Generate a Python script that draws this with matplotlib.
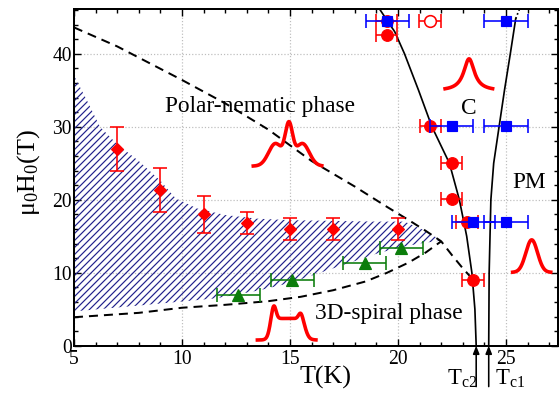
import numpy as np
import matplotlib
matplotlib.use('Agg')
import matplotlib.pyplot as plt
from matplotlib.patches import Polygon

DPI = 84
PX = 72.0 / DPI  # points per pixel

plt.rcParams['font.family'] = ['Liberation Serif', 'DejaVu Serif']
plt.rcParams['mathtext.default'] = 'regular'
plt.rcParams['hatch.linewidth'] = 1.2 * PX

# ---------------- data ----------------
dia_T = [7, 9, 11, 13, 15, 17, 20]
dia_H = [27.0, 21.3, 18.0, 16.8, 16.0, 16.0, 16.0]
dia_err = [3.0, 3.0, 2.5, 1.5, 1.5, 1.5, 1.5]

tri_T = [12.6, 15.1, 18.45, 20.15]
tri_H = [7.0, 9.0, 11.3, 13.4]
tri_err = [1.0, 1.0, 1.0, 1.0]

circ_T = [19.47, 19.47, 21.5, 22.48, 22.48, 23.2, 23.47]
circ_H = [44.5, 42.6, 30.1, 25.0, 20.05, 17.0, 9.0]
circ_err = [0.5, 0.5, 0.5, 0.5, 0.5, 0.5, 0.5]

open_T = [21.48]
open_H = [44.5]
open_err = [0.5]

sq_T = [19.5, 25.0, 22.48, 25.0, 23.49, 25.0]
sq_H = [44.5, 44.5, 30.1, 30.1, 17.0, 17.0]
sq_err = [1.0, 1.0, 1.0, 1.0, 1.0, 1.0]

tc2_H = [0, 5, 10, 15, 20, 25, 30, 35, 40, 43, 46.1]
tc2_T = [23.62, 23.56, 23.42, 23.18, 22.84, 22.38, 21.57, 20.95, 20.3, 19.85, 19.15]
tc1_H = [0, 10, 20, 25, 30, 35, 40, 44.8]
tc1_T = [24.2, 24.22, 24.3, 24.43, 24.68, 24.93, 25.2, 25.45]
tc1_dot_H = [44.8, 46.1]
tc1_dot_T = [25.45, 25.62]

upper_T = [5, 7, 10, 12, 14, 16, 18, 19.5, 20.5, 21.3, 22.0, 22.5, 23.0, 23.4]
upper_H = [43.6, 41.0, 36.4, 33.2, 29.6, 25.3, 21.8, 19.0, 17.2, 15.7, 14.3, 12.4, 10.6, 9.3]
lower_T = [5, 8, 10, 12, 14, 15.5, 17, 18.5, 19.5, 20.5, 21.3, 22.0]
lower_H = [3.9, 4.5, 5.2, 5.6, 6.1, 6.7, 7.6, 8.8, 10.0, 11.4, 12.8, 14.3]

hatch_top_T = [5, 5.6, 6.2, 7.0, 8.0, 9.0, 9.7, 10.7, 12.0, 13.5, 15, 17, 19, 20.3, 21.3, 22.0]
hatch_top_H = [37.0, 33.6, 30.0, 27.6, 25.3, 22.6, 20.2, 18.8, 17.9, 17.4, 17.2, 17.1, 17.0, 17.0, 15.7, 14.4]
hatch_bot_T = [21.0, 20.0, 19.0, 18.0, 17.0, 16.0, 15.0, 13.6, 11.6, 8.0, 5.0]
hatch_bot_H = [14.0, 13.4, 12.6, 11.6, 10.6, 9.6, 8.6, 7.6, 6.5, 5.5, 4.7]

xticks = [5, 10, 15, 20, 25]
yticks = [0, 10, 20, 30, 40]

# ---------------- figure ----------------
fig = plt.figure(figsize=(559 / DPI, 396 / DPI), dpi=DPI)
ax = fig.add_axes([74 / 559, (396 - 345.7) / 396, (557.5 - 74) / 559, (345.7 - 9.3) / 396])
ax.set_xlim(5, 5 + 483.5 / 21.6)
ax.set_ylim(0, 336.4 / 7.3)

ax.set_xticks(xticks)
ax.set_yticks(yticks)
ax.set_xticks(np.arange(5, 28, 1), minor=True)
ax.set_yticks(np.arange(0, 47, 2), minor=True)
ax.tick_params(which='both', direction='in', top=True, right=True,
               width=1.4 * PX, labelsize=16.8, labelfontfamily='Liberation Serif')
ax.tick_params(which='major', length=7 * PX)
ax.tick_params(which='minor', length=4 * PX)
ax.tick_params(axis='x', pad=4 * PX)
ax.tick_params(axis='y', pad=2 * PX)
for s in ax.spines.values():
    s.set_linewidth(2 * PX)
ax.grid(True, which='major', linestyle=':', color='#bdbdbd', linewidth=1.2 * PX, zorder=0)
ax.set_axisbelow(True)

# hatched region
poly_T = hatch_top_T + hatch_bot_T
poly_H = hatch_top_H + hatch_bot_H
hp = Polygon(np.column_stack([poly_T, poly_H]), closed=True, facecolor='none',
             edgecolor='#22228c', linewidth=0, hatch='////', zorder=1)
ax.add_patch(hp)

# dashed boundaries
dash = (0, (4.5, 3))
ax.plot(upper_T, upper_H, color='black', lw=2 * PX, linestyle=dash, zorder=2)
ax.plot(lower_T, lower_H, color='black', lw=2 * PX, linestyle=dash, zorder=2)

# Tc lines
ax.plot(tc2_T, tc2_H, color='black', lw=1.7 * PX, zorder=2)
ax.plot(tc1_T, tc1_H, color='black', lw=1.7 * PX, zorder=2)
ax.plot(tc1_dot_T, tc1_dot_H, color='black', lw=1.7 * PX, linestyle=(0, (1, 1.5)), zorder=2)

# illustrative line profiles (red)
prof_lw = 3.6 * PX
x = np.linspace(13.3, 16.47, 200)
c = 14.95
y = 24.6 + 5.15 * np.exp(-(x - c) ** 2 / (2 * 0.17 ** 2)) + 3.1 * (
    np.exp(-(x - c + 0.62) ** 2 / (2 * 0.32 ** 2)) + np.exp(-(x - c - 0.62) ** 2 / (2 * 0.32 ** 2)))
ax.plot(x, y, color='red', lw=prof_lw, zorder=3)

x = np.linspace(22.18, 24.38, 200)
y = 34.9 + 4.4 / (1 + ((x - 23.29) / 0.3) ** 2)
ax.plot(x, y, color='red', lw=prof_lw, zorder=3)

x = np.linspace(25.31, 27.07, 200)
y = 10.05 + 4.45 * np.exp(-(x - 26.19) ** 2 / (2 * 0.27 ** 2))
ax.plot(x, y, color='red', lw=prof_lw, zorder=3)

x = np.linspace(13.49, 16.2, 300)
sig = lambda z: 1 / (1 + np.exp(-z))
y = 0.78 + 2.95 * sig((x - 14.05) / 0.07) * sig(-(x - 15.72) / 0.09) \
    + 1.87 * np.exp(-(x - 14.25) ** 2 / (2 * 0.1 ** 2)) + 0.93 * np.exp(-(x - 15.5) ** 2 / (2 * 0.1 ** 2))
ax.plot(x, y, color='red', lw=prof_lw, zorder=3)

# data points
ebw = 1.6 * PX
cap = 7 * PX
ax.errorbar(dia_T, dia_H, yerr=dia_err, fmt='D', color='red', ms=7.5,
            mec='red', ecolor='red', elinewidth=ebw, capsize=cap, capthick=ebw, zorder=4)
ax.errorbar(tri_T, tri_H, xerr=tri_err, fmt='^', color='#0b7d0b', ms=10,
            ecolor='#0b7d0b', elinewidth=ebw, capsize=cap, capthick=ebw, zorder=4)
ax.errorbar(circ_T, circ_H, xerr=circ_err, fmt='o', color='red', ms=10,
            ecolor='red', elinewidth=ebw, capsize=cap, capthick=ebw, zorder=4)
ax.errorbar(open_T, open_H, xerr=open_err, fmt='o', mfc='white', mec='red', mew=1.6 * PX, ms=10,
            ecolor='red', elinewidth=ebw, capsize=cap, capthick=ebw, zorder=4)
ax.errorbar(sq_T, sq_H, xerr=sq_err, fmt='s', color='blue', ms=8,
            ecolor='blue', elinewidth=ebw, capsize=cap, capthick=ebw, zorder=5)

# labels
lab = 23.4 * PX
ax.text(9.23, 32.05, 'Polar-nematic phase', fontsize=lab, zorder=6)
ax.text(22.92, 31.8, 'C', fontsize=lab, zorder=6)
ax.text(25.31, 21.55, 'PM', fontsize=lab, zorder=6)
ax.text(16.16, 3.65, '3D-spiral phase', fontsize=lab, zorder=6)

ax.set_xlabel('T(K)', fontsize=26 * PX)
ax.set_ylabel('μ$_0$H$_0$(T)', fontsize=26 * PX)
ax.xaxis.set_label_coords(0.52, -0.06)
ax.yaxis.set_label_coords(-0.066, 0.513)

# Tc arrows and labels below the axis
for tc in [tc2_T[0], tc1_T[0]]:
    ax.annotate('', xy=(tc, 0), xytext=(tc, -5.6), annotation_clip=False,
                arrowprops=dict(arrowstyle='-|>,head_length=0.55,head_width=0.22',
                                color='black', lw=1.6 * PX, shrinkA=0, shrinkB=0))
ax.text(22.25, -5.4, 'T$_{c2}$', fontsize=22.7 * PX, clip_on=False)
ax.text(24.49, -5.4, 'T$_{c1}$', fontsize=22.7 * PX, clip_on=False)

fig.savefig('out.png', dpi=DPI)
